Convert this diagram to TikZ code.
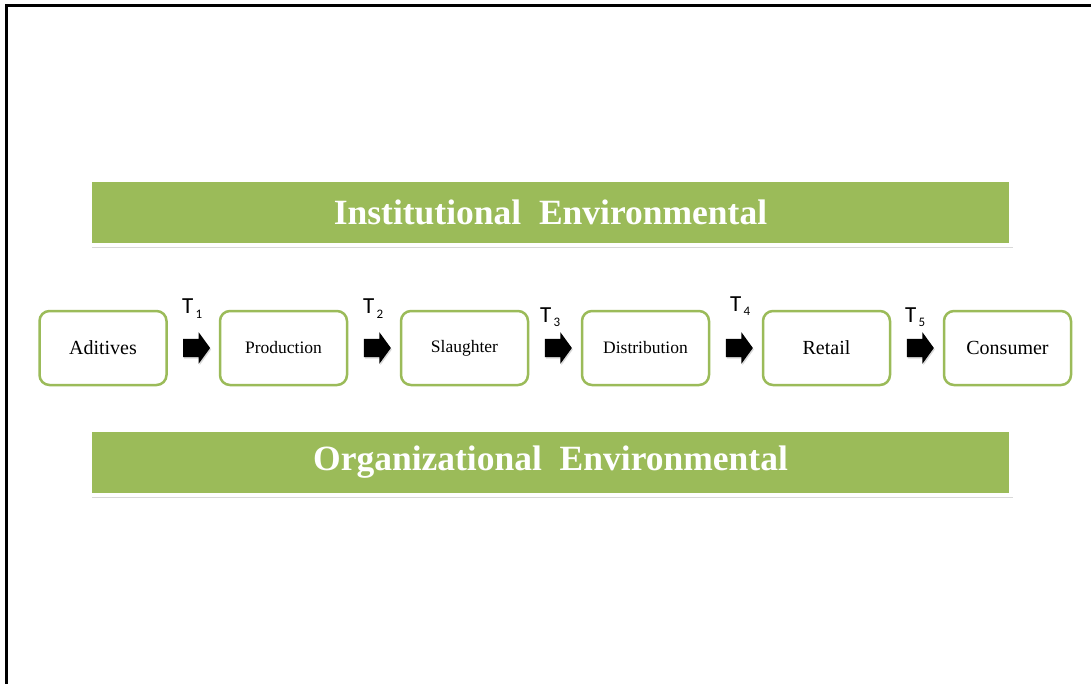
\documentclass[tikz,border=0pt]{standalone}
\usepackage{fontspec}
\setmainfont{Liberation Serif}
\newfontfamily\tfont{Carlito}
\usetikzlibrary{shapes.arrows,shadows,calc}
\definecolor{olivegreen}{HTML}{9BBB59}
\begin{document}
\begin{tikzpicture}[x=1pt,y=-1pt,
  bar/.style={fill=olivegreen, draw=white, line width=4pt, minimum width=921pt, minimum height=65pt, inner sep=0pt,
    text=white, font=\fontsize{35.5}{35.5}\selectfont\bfseries,
    drop shadow={shadow xshift=1.5pt, shadow yshift=-3pt, opacity=0.3, fill=gray}},
  stage/.style={draw=olivegreen, line width=2.5pt, rounded corners=10pt, minimum width=127pt, minimum height=74pt, inner sep=0pt, fill=white},
  big/.style={font=\fontsize{20}{20}\selectfont},
  small/.style={font=\fontsize{17.5}{17.5}\selectfont},
  blockarrow/.style={single arrow, fill=black, minimum height=27pt, inner xsep=0pt, inner ysep=9pt, text height=0pt, text depth=0pt,
    single arrow head extend=6.5pt, single arrow head indent=0pt, single arrow tip angle=108,
    drop shadow={shadow xshift=1pt, shadow yshift=-1.5pt, opacity=0.3, fill=gray}},
  tlab/.style={anchor=base west, inner sep=0pt, font=\tfont\fontsize{23}{23}\selectfont}
]
\useasboundingbox (0,0) rectangle (1091,684);
\fill[white] (0,0) rectangle (1091,684);
% frame
\coordinate (fc) at (6,684);
\coordinate (ftl) at (6,6);
\coordinate (ftr) at (1091,6);
\draw[line width=3pt] (fc) -- (ftl) -- (ftr);

% bars
\node[bar] (inst) at (550.5,212.5) {Institutional\ \ Environmental};
\node[bar] (org) at (550.5,462.5) {Organizational\ \ Environmental};

% stages
\node[stage, big] (a) at (103,348) {Aditives};
\node[stage, small] (b) at (283.5,348) {Production};
\node[stage, small] (c) at (464.5,348) {Slaughter};
\node[stage, small] (d) at (645.5,348) {Distribution};
\node[stage, big] (e) at (826.5,348) {Retail};
\node[stage, big] (f) at (1007.5,348) {Consumer};

% arrows
\node[blockarrow] (ar1) at ($(a.east)!0.5!(b.west)$) {};
\node[blockarrow] (ar2) at ($(b.east)!0.5!(c.west)$) {};
\node[blockarrow] (ar3) at ($(c.east)!0.5!(d.west)$) {};
\node[blockarrow] (ar4) at ($(d.east)!0.5!(e.west)$) {};
\node[blockarrow] (ar5) at ($(e.east)!0.5!(f.west)$) {};

% labels
\newcommand{\tsub}[1]{T\raisebox{-5pt}{\fontsize{13}{13}\selectfont\,#1}}
\node[tlab] (t1) at (182,313) {\tsub{1}};
\node[tlab] (t2) at (363,313) {\tsub{2}};
\node[tlab] (t3) at (540,322) {\tsub{3}};
\node[tlab] (t4) at (730,311) {\tsub{4}};
\node[tlab] (t5) at (905,322) {\tsub{5}};
\end{tikzpicture}
\end{document}
